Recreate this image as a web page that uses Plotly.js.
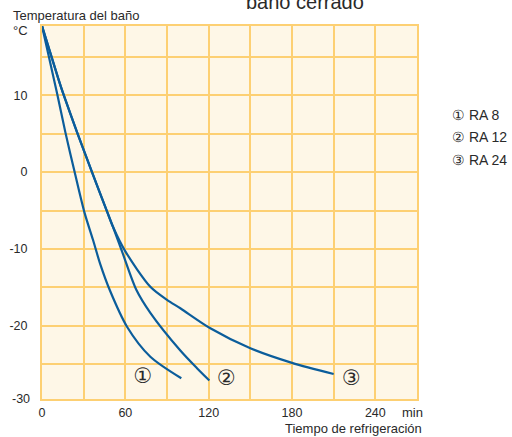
<!DOCTYPE html>
<html>
<head>
<meta charset="utf-8">
<script src="https://cdn.plot.ly/plotly-3.0.1.min.js"></script>
<style>
  html, body { margin: 0; padding: 0; background: #ffffff; }
  #chart { width: 512px; height: 437px; }
</style>
</head>
<body>
<div id="chart"></div>
<script>
// ---- Data ----
const seriesNames = ["RA 8", "RA 12", "RA 24"];
const seriesMarks = ["\u2460", "\u2461", "\u2462"];

const ra8Time = [0, 10.8, 16.8, 23.5, 30.5, 36.7, 42.0, 48.7, 61.2, 78.0, 100.3];
const ra8Temp = [19, 10.3, 5.2, 0, -5.2, -8.8, -12.0, -15.3, -20.1, -24.0, -26.8];

const ra12Time = [0, 12.0, 15.1, 25.2, 36.0, 47.0, 51.1, 57.6, 67.9, 78.0, 99.6, 111.6, 120.5];
const ra12Temp = [19, 12.0, 10.3, 5.2, 0, -5.2, -7.1, -10.3, -15.3, -18.3, -23.2, -25.5, -27.1];

const ra24Time = [0, 12.0, 15.1, 25.2, 36.0, 47.0, 51.1, 60.0, 78.0, 90.0, 99.6, 121.2, 150.0, 180.0, 210.0];
const ra24Temp = [19, 12.0, 10.3, 5.2, 0, -5.2, -7.1, -10.3, -14.9, -16.6, -17.7, -20.3, -22.9, -24.8, -26.25];

// circled marks placed under the curve ends (time, temperature)
const markTime = [72.7, 132.7, 222.7];
const markTemp = [-26.8, -27.0, -27.0];

// axis ticks
const xTickVals = [0, 30, 60, 90, 120, 150, 180, 210, 240, 270];
const xTickText = ["0", "", "60", "", "120", "", "180", "", "240", ""];
const yTickVals = [-25, -20, -15, -10, -5, 0, 5, 10, 15];
const yTickText = ["", "-20", "", "-10", "", "0", "", "10", ""];
const yBottomLabel = "-30";

// ---- Styles ----
const FONT = "'Liberation Sans', Arial, sans-serif";
const TXT = "#2a2a2a";
const GRID = "#fdd073";
const BG = "#fef7e7";
const LINE = "#0b5d9b";

const curves = [
  [ra8Time, ra8Temp],
  [ra12Time, ra12Temp],
  [ra24Time, ra24Temp]
];

const traces = curves.map((c, i) => ({
  x: c[0], y: c[1], type: "scatter", mode: "lines",
  name: seriesNames[i],
  line: { color: LINE, width: 2.2, shape: "spline", smoothing: 0.8 },
  hoverinfo: "skip", showlegend: false, cliponaxis: true
}));

traces.push({
  x: markTime, y: markTemp, type: "scatter", mode: "text",
  text: seriesMarks, textposition: "middle center",
  textfont: { family: "'DejaVu Sans', sans-serif", size: 21, color: TXT },
  hoverinfo: "skip", showlegend: false
});

const annotations = [
  { text: "baño cerrado", xref: "paper", yref: "paper", x: 0.7, y: 1.064, xanchor: "center", yanchor: "middle",
    showarrow: false, font: { family: FONT, size: 20, color: TXT } },
  { text: "Temperatura del baño", xref: "paper", yref: "paper", x: -0.082, y: 1.027, xanchor: "left", yanchor: "middle",
    showarrow: false, font: { family: FONT, size: 13, color: TXT } },
  { text: "°C", xref: "paper", yref: "paper", x: -0.082, y: 0.9875, xanchor: "left", yanchor: "middle",
    showarrow: false, font: { family: FONT, size: 13, color: TXT } },
  { text: "min", xref: "paper", yref: "paper", x: 0.9888, y: -0.0354, xanchor: "center", yanchor: "middle",
    showarrow: false, font: { family: FONT, size: 13, color: TXT } },
  { text: "Tiempo de refrigeración", xref: "paper", yref: "paper", x: 1.0196, y: -0.0796, xanchor: "right", yanchor: "middle",
    showarrow: false, font: { family: FONT, size: 13, color: TXT } },
  { text: yBottomLabel, xref: "paper", yref: "paper", x: 0, y: 0, xanchor: "right", yanchor: "middle", xshift: -10,
    showarrow: false, font: { family: FONT, size: 12.5, color: TXT } }
];

const legendY = [0.7626, 0.7018, 0.6420];
seriesNames.forEach((n, i) => {
  annotations.push({
    text: seriesMarks[i] + " " + n, xref: "paper", yref: "paper", x: 1.0887, y: legendY[i],
    xanchor: "left", yanchor: "middle", showarrow: false,
    font: { family: FONT, size: 14, color: TXT }
  });
});

const layout = {
  width: 512, height: 437,
  margin: { l: 42, r: 95, t: 26, b: 38, pad: 0 },
  paper_bgcolor: "#ffffff",
  plot_bgcolor: BG,
  showlegend: false,
  font: { family: FONT, size: 12.5, color: TXT },
  xaxis: {
    range: [0, 270], tickmode: "array", tickvals: xTickVals, ticktext: xTickText,
    showgrid: true, gridcolor: GRID, gridwidth: 2, zeroline: false,
    showline: true, linecolor: GRID, linewidth: 2, mirror: true,
    ticks: "", ticklabelstandoff: 1,
    tickfont: { family: FONT, size: 12.5, color: TXT }, fixedrange: true
  },
  yaxis: {
    range: [-29.5, 19], tickmode: "array", tickvals: yTickVals, ticktext: yTickText,
    showgrid: true, gridcolor: GRID, gridwidth: 2, zeroline: false,
    showline: true, linecolor: GRID, linewidth: 2, mirror: true,
    ticks: "", ticklabelstandoff: 10,
    tickfont: { family: FONT, size: 12.5, color: TXT }, fixedrange: true
  },
  annotations: annotations
};

Plotly.newPlot("chart", traces, layout, { staticPlot: true, displayModeBar: false });
</script>
</body>
</html>
